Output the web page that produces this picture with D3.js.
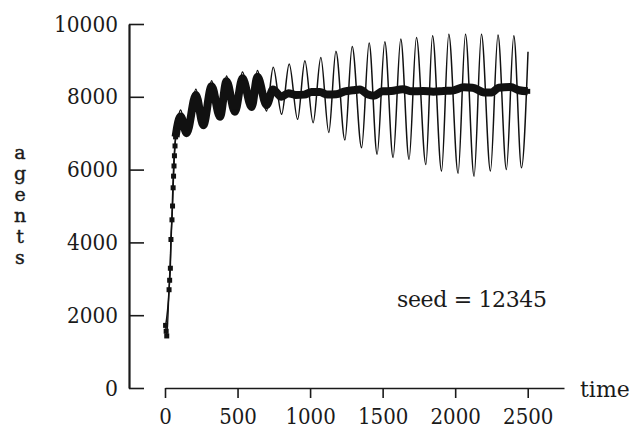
<!DOCTYPE html>
<html>
<head>
<meta charset="utf-8">
<script src="https://cdn.jsdelivr.net/npm/d3@7"></script>
<style>
  body { margin: 0; background: #fff; }
</style>
</head>
<body>
<div id="chart"></div>
<script>
// series with square markers (settles near 8100)
const markedTime = [4, 8, 12, 28, 32, 37, 41, 48, 52, 56, 59, 62, 65, 69, 73, 85,
  108, 149, 213, 264, 321, 379, 424, 482, 534, 597, 637, 700, 744, 803,
  850, 900, 960, 1010, 1067, 1120, 1180, 1240, 1295, 1343,
  1400, 1440, 1500, 1560, 1640, 1700, 1780, 1850, 1920, 1980,
  2060, 2120, 2200, 2250, 2300, 2380, 2440, 2500];
const markedAgents = [1720, 1560, 1430, 2700, 2960, 3290, 4080, 4620, 5000, 5500, 5820, 6100, 6380, 6650, 6900, 7200,
  7460, 7000, 8050, 7220, 8290, 7450, 8430, 7590, 8510, 7720, 8550, 7770, 8200, 8000,
  8100, 8050, 8060, 8130, 8130, 8060, 8070, 8150, 8180, 8200,
  8060, 8030, 8150, 8160, 8210, 8150, 8160, 8140, 8160, 8170,
  8260, 8250, 8120, 8120, 8250, 8270, 8180, 8150];

// thin series (oscillation grows)
const plainTime = [4, 28, 45, 62, 80,
  108, 149, 213, 264, 321, 379, 424, 482, 534, 597, 637,
  700, 746, 804, 856, 914, 964, 1021, 1074, 1129, 1178,
  1240, 1290, 1355, 1407, 1462, 1515, 1572, 1625, 1682, 1733,
  1798, 1844, 1906, 1956, 2020, 2071, 2130, 2181, 2243, 2295,
  2353, 2404, 2457, 2502];
const plainAgents = [1700, 2700, 4400, 6300, 7100,
  7640, 6950, 8210, 7150, 8440, 7380, 8570, 7520, 8680, 7650, 8720,
  7610, 8810, 7520, 8900, 7380, 8990, 7290, 9080, 7020, 9250,
  6810, 9380, 6600, 9480, 6420, 9510, 6330, 9590, 6280, 9630,
  6140, 9680, 5960, 9720, 5900, 9720, 5820, 9720, 5960, 9700,
  6000, 9680, 6050, 9240];

const xTicks = [0, 500, 1000, 1500, 2000, 2500];
const yTicks = [0, 2000, 4000, 6000, 8000, 10000];
const yLetters = ["a", "g", "e", "n", "t", "s"];
const note = "seed = 12345";

const FONT = "'DejaVu Serif', 'Liberation Serif', 'Times New Roman', serif";
const INK = "#1a1a1a";

const W = 631, H = 430;
const svg = d3.select("#chart").append("svg")
  .attr("width", W).attr("height", H)
  .style("background", "#fff");

const x = d3.scaleLinear().domain([0, 2750]).range([165, 564]);
const y = d3.scaleLinear().domain([0, 10000]).range([388, 24]);

// y axis (ticks point inward)
const yAxis = svg.append("g")
  .attr("transform", "translate(129,0)")
  .call(d3.axisLeft(y).tickValues(yTicks).tickFormat(d3.format("d"))
    .tickSize(-15).tickSizeOuter(0).tickPadding(11));
yAxis.attr("font-family", null);
yAxis.select(".domain").attr("stroke", INK).attr("stroke-width", 2.2);
yAxis.selectAll(".tick line").attr("stroke", INK).attr("stroke-width", 1.6);
yAxis.selectAll("text")
  .attr("font-family", FONT).attr("font-size", 22).attr("fill", INK)
  .attr("textLength", 64).attr("lengthAdjust", "spacingAndGlyphs")
  .filter(d => d < 10000).attr("textLength", d => d === 0 ? 13 : 51);

// x axis, detached from the y axis
const xAxis = svg.append("g")
  .attr("transform", "translate(0,388)")
  .call(d3.axisBottom(x).tickValues(xTicks).tickFormat(d3.format("d"))
    .tickSize(10).tickSizeOuter(0).tickPadding(10));
xAxis.attr("font-family", null);
xAxis.select(".domain").attr("stroke", INK).attr("stroke-width", 1.6);
xAxis.selectAll(".tick line").attr("stroke", INK).attr("stroke-width", 1.6);
xAxis.selectAll("text")
  .attr("font-family", FONT).attr("font-size", 22).attr("fill", INK)
  .attr("textLength", d => String(d).length * 12.6)
  .attr("lengthAdjust", "spacingAndGlyphs");

svg.append("text")
  .attr("x", 580).attr("y", 397)
  .attr("font-family", FONT).attr("font-size", 22).attr("fill", INK)
  .text("time");

// vertical stacked axis title
svg.append("g").selectAll("text")
  .data(yLetters)
  .join("text")
  .attr("x", 20).attr("y", (d, i) => 159 + i * 21)
  .attr("text-anchor", "middle")
  .attr("font-family", FONT).attr("font-size", 19).attr("fill", INK)
  .attr("stroke", INK).attr("stroke-width", 0.4)
  .text(d => d);

svg.append("text")
  .attr("x", 397).attr("y", 307)
  .attr("textLength", 150)
  .attr("lengthAdjust", "spacing")
  .attr("font-family", FONT).attr("font-size", 22).attr("fill", INK)
  .text(note);

const plain = plainTime.map((t, i) => [t, plainAgents[i]]);
const marked = markedTime.map((t, i) => [t, markedAgents[i]]);

const line = d3.line()
  .x(d => x(d[0]))
  .y(d => y(d[1]))
  .curve(d3.curveMonotoneX);

svg.append("path")
  .datum(plain)
  .attr("fill", "none")
  .attr("stroke", "#111")
  .attr("stroke-width", 1.5)
  .attr("d", line);

svg.append("path")
  .datum(marked)
  .attr("fill", "none")
  .attr("stroke", "#111")
  .attr("stroke-width", 1.4)
  .attr("d", line);

// dense markers merge into a band once the oscillation starts
svg.append("path")
  .datum(marked.filter(d => d[0] >= 73))
  .attr("fill", "none")
  .attr("stroke", "#111")
  .attr("stroke-width", 8)
  .attr("stroke-linejoin", "round")
  .attr("d", line);

svg.append("g").selectAll("rect")
  .data(marked)
  .join("rect")
  .attr("x", d => x(d[0]) - 2.5)
  .attr("y", d => y(d[1]) - 2.5)
  .attr("width", 5).attr("height", 5)
  .attr("fill", "#111");
</script>
</body>
</html>
